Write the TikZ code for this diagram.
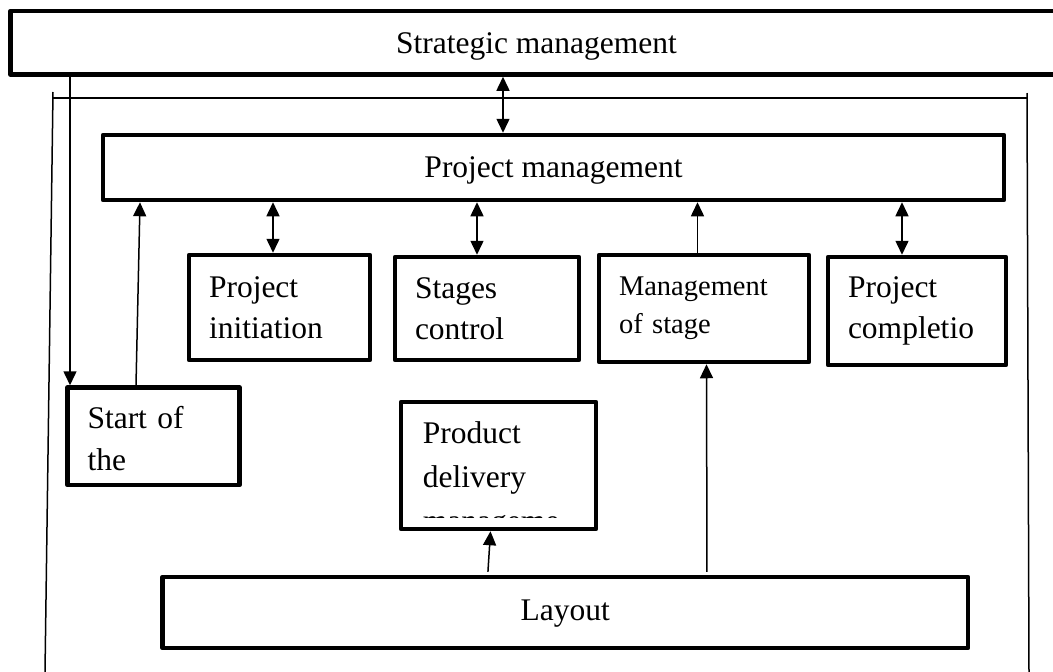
\documentclass[tikz,border=0pt]{standalone}
\usepackage{fontspec}
\setmainfont{Liberation Serif}
\usetikzlibrary{arrows.meta}
\begin{document}
\begin{tikzpicture}[x=1pt,y=-1pt,
  >={Triangle[length=14pt,width=13pt]},
  box/.style={draw, line width=4.5pt, line join=round, inner sep=0pt},
  big/.style={font=\fontsize{31.5}{41}\selectfont},
  small/.style={font=\fontsize{28.5}{38}\selectfont},
  txtbox/.style={box, align=left, inner xsep=20pt, inner ysep=0pt, text width=#1},
  thin/.style={line width=1.5pt}
]
\useasboundingbox (0,0) rectangle (1053,672);

% outer frame
\draw[thin] (53,92) -- (45,672);
\draw[thin] (53,98) -- (1027,98);
\draw[thin] (1027,93) -- (1029,672);

% wide boxes
\node[box, big, minimum width=1052pt, minimum height=63.5pt, text height=20.5pt, text depth=0pt] (sm) at (536.5,42.75) {Strategic management};
\node[box, big, minimum width=901pt, minimum height=65pt, text height=19pt, text depth=0pt] (pm) at (553.5,167.5) {Project management};
\node[box, big, minimum width=805.5pt, minimum height=71pt, text height=15pt, text depth=0pt] (lay) at (565.25,612.5) {Layout};

% middle boxes
\node[txtbox=141pt, big, minimum height=105pt] (pi) at (279.5,307.5) {Project\\initiation};
\node[txtbox=144pt, big, minimum height=103pt] (sc) at (487,308.5) {Stages\\control};
\node[txtbox=170pt, small, minimum height=107pt] (ms) at (704,308.5) {Management\\of stage};
\node[txtbox=138pt, big, minimum height=108pt] (pc) at (917,311) {Project\\completio};
\node[txtbox=132pt, font=\fontsize{31.5}{42}\selectfont, minimum height=97.5pt] (st) at (153.5,436.25) {\rule{0pt}{27.5pt}Start of\\the};

% product delivery box with clipped text
\node[box, minimum width=195pt, minimum height=127pt] (pd) at (498.5,465.5) {};
\begin{scope}
  \clip ([xshift=2.25pt,yshift=-2.25pt]pd.north west) rectangle ([xshift=-2.25pt,yshift=14pt]pd.south east);
  \node[anchor=north west, inner sep=0pt, align=left, font=\fontsize{31.5}{44}\selectfont] (pdtext) at ([xshift=24pt,yshift=-21.75pt]pd.north west) {Product\\delivery\\manageme};
\end{scope}

% connectors
\draw[thin,<->] ([xshift=-33.5pt]sm.south) -- ([xshift=-50.5pt]pm.north);
\draw[thin,->] ([xshift=-466.5pt]sm.south) -- ([xshift=-83.5pt]st.north);
\draw[thin,->] ([xshift=-17.5pt]st.north) -- ([xshift=-413.5pt]pm.south);
\draw[thin,<->] ([xshift=-280.5pt]pm.south) -- ([xshift=-6.5pt]pi.north);
\draw[thin,<->] ([xshift=-76.5pt]pm.south) -- ([xshift=-10pt]sc.north);
\draw[thin,->] ([xshift=-6.5pt]ms.north) -- ([xshift=144pt]pm.south);
\draw[thin,<->] ([xshift=348.5pt]pm.south) -- ([xshift=-15pt]pc.north);
\draw[thin,->,shorten <=3pt] ([xshift=141.75pt]lay.north) -- ([xshift=2.5pt]ms.south);
\draw[thin,->,shorten <=3pt] ([xshift=-77.5pt]lay.north) -- ([xshift=-8pt]pd.south);
\end{tikzpicture}
\end{document}
